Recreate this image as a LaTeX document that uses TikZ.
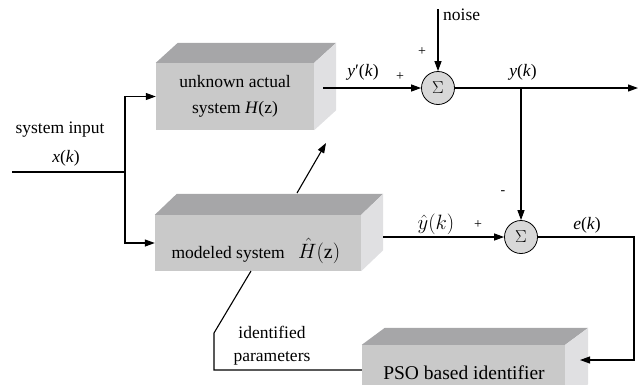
\documentclass[tikz,border=0pt]{standalone}
\usepackage{fontspec}
\setmainfont{Liberation Serif}
\usetikzlibrary{arrows.meta,calc}
\definecolor{frontc}{RGB}{201,201,201}
\definecolor{topc}{RGB}{166,166,168}
\definecolor{sidec}{RGB}{224,224,226}
\definecolor{sumc}{RGB}{216,216,216}
\tikzset{
  front/.style={fill=frontc,draw=none,inner sep=0pt,align=center,font=\fontsize{17.5}{26}\selectfont},
  sumnode/.style={circle,draw,line width=0.8pt,fill=sumc,minimum size=33pt,inner sep=0pt,font=\fontsize{16}{16}\selectfont},
  conn/.style={line width=1.1pt},
  arr/.style={conn,-{Triangle[length=10pt,width=7pt]}},
  lbl/.style={font=\fontsize{17.5}{20}\selectfont,inner sep=0pt},
  sgn/.style={font=\fontsize{14}{14}\selectfont,inner sep=0pt}
}
\newcommand\depthfaces[3]{%
  \fill[topc] (#1.north west) -- ++(#2,-#3) -- ($(#1.north east)+(#2,-#3)$) -- (#1.north east) -- cycle;
  \fill[sidec] (#1.north east) -- ++(#2,-#3) -- ($(#1.south east)+(#2,-#3)$) -- (#1.south east) -- cycle;
}
\begin{document}
\begin{tikzpicture}[x=1pt,y=-1pt]
\useasboundingbox (0,0) rectangle (644,384);
\begin{scope}
\clip (0,0) rectangle (644,384);
% boxes
\node[front,minimum width=158pt,minimum height=67pt] (unk) at (235,96.5) {unknown actual\\system \textit{H}(z)};
\depthfaces{unk}{22}{20}
\node[front,minimum width=206pt,minimum height=56pt] (mod) at (258,243) {};
\depthfaces{mod}{22}{21}
\node[lbl,anchor=base east] (modt) at (285,258) {modeled system};
\node[inner sep=0pt,anchor=base west,font=\fontsize{20}{20}\selectfont] (modh) at (298,258) {$\hat{H}(\mathrm{z})$};
\node[front,minimum width=203pt,minimum height=56pt] (pso) at (463.5,373) {};
\depthfaces{pso}{23}{17}
\node[inner sep=0pt,anchor=base,font=\fontsize{19.5}{20}\selectfont] (psot) at (464,379) {PSO based identifier};
\end{scope}
% summing junctions
\node[sumnode] (s1) at (438,88) {$\Sigma$};
\node[sumnode] (s2) at (521,237) {$\Sigma$};
% coordinates
\coordinate (in) at (12,172);
\coordinate (br) at (125,172);
\coordinate (yp) at (323,88);
\coordinate (nz) at (438,9);
\coordinate (out) at (638,88);
\coordinate (bp) at (521,88);
\coordinate (yh) at (383,237);
\coordinate (ec) at (634,237);
\coordinate (pt) at (580,360);
\coordinate (d1) at (297,193);
\coordinate (d2) at (326,143);
\coordinate (p1) at (251,271);
\coordinate (p2) at (214,333);
\coordinate (p3) at (214,370);
% connectors
\draw[conn] (in) -- (br);
\draw[arr] (br) |- (unk.west);
\draw[arr] (br) |- (mod.west);
\draw[arr] (yp) -- (s1);
\draw[arr] (nz) -- (s1);
\draw[arr] (s1) -- (out);
\draw[arr] (bp) -- (s2);
\draw[arr] (yh) -- (s2);
\draw[arr] (s2) -- (ec) |- (pt);
\draw[arr] (d1) -- (d2);
\draw[conn] (p1) -- (p2) -- (p3) -- (pso.west |- p3);
% labels
\node[lbl,anchor=west] (nzl) at (443,15) {noise};
\node[sgn] (pl1) at (422,52) {+};
\node[lbl] (ypl) at (363,72) {\textit{y}′(\textit{k})};
\node[sgn] (pl2) at (400,77) {+};
\node[lbl] (yl) at (523,72) {\textit{y}(\textit{k})};
\node[sgn] (mn) at (503,193) {-};
\node[inner sep=0pt,anchor=base,font=\fontsize{20}{20}\selectfont] (yhl) at (436,229) {$\hat{y}(k)$};
\node[sgn] (pl3) at (478,225) {+};
\node[lbl] (el) at (587,225) {\textit{e}(\textit{k})};
\node[lbl] (sil) at (60,130) {system input};
\node[lbl] (xl) at (66,158) {\textit{x}(\textit{k})};
\node[lbl] (idl) at (272,332) {identified};
\node[lbl] (pal) at (272,358) {parameters};
\end{tikzpicture}
\end{document}
